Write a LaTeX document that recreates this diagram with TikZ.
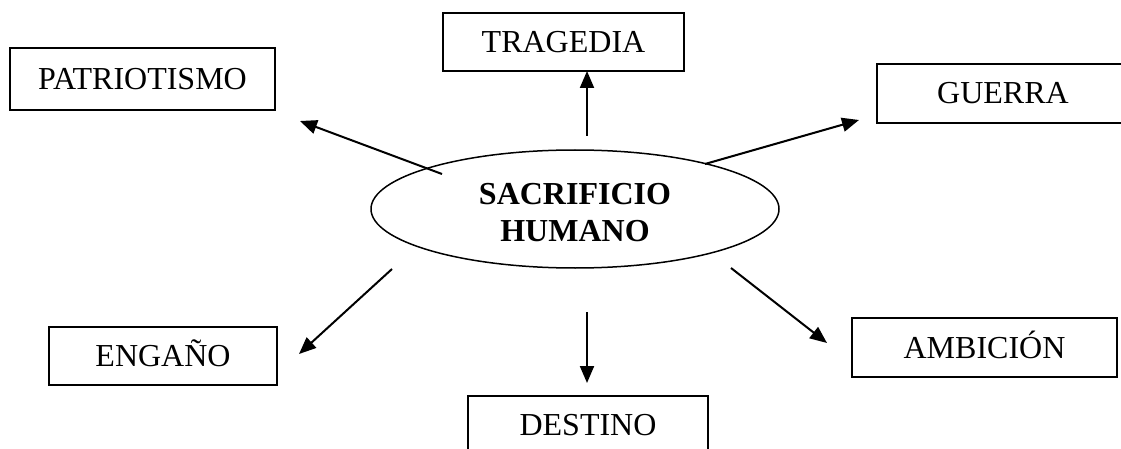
\documentclass[tikz,border=0pt]{standalone}
\usepackage{fontspec}
\setmainfont{Liberation Serif}
\usetikzlibrary{arrows.meta,shapes.geometric}
\begin{document}
\begin{tikzpicture}[x=1pt,y=-1pt,
  box/.style={draw,line width=1.8pt,inner sep=0pt,text height=21pt,text depth=0pt,font=\fontsize{32}{37}\selectfont},
  conn/.style={line width=2pt,-{Triangle[length=17pt,width=14pt]}}]
\useasboundingbox (0,0) rectangle (1121,449);
\clip (0,0) rectangle (1121,449);
\node[ellipse,draw,line width=1.5pt,minimum width=408pt,minimum height=118pt,inner sep=0pt,align=center,font=\bfseries\fontsize{32}{37}\selectfont] (c) at (575,209) {\rule{0pt}{28pt}SACRIFICIO\\HUMANO};
\node[box,minimum width=265pt,minimum height=62pt] (pat) at (142.5,79) {PATRIOTISMO};
\node[box,minimum width=241pt,minimum height=58pt] (trag) at (563.5,42) {TRAGEDIA};
\node[box,minimum width=252pt,minimum height=59pt] (guer) at (1003,93.5) {GUERRA};
\node[box,minimum width=228pt,minimum height=58pt] (eng) at (163,356) {ENGAÑO};
\node[box,minimum width=265pt,minimum height=59pt] (amb) at (984.5,347.5) {AMBICIÓN};
\node[box,minimum width=240pt,minimum height=58pt] (dest) at (588,425) {DESTINO};
\coordinate (s1) at (587,136); \coordinate (t1) at (587,71);
\coordinate (s2) at (442,174); \coordinate (t2) at (300,121);
\coordinate (s3) at (705,164); \coordinate (t3) at (859,120);
\coordinate (s4) at (392,269); \coordinate (t4) at (299,354);
\coordinate (s5) at (587,312); \coordinate (t5) at (587,383);
\coordinate (s6) at (731,268); \coordinate (t6) at (827,343);
\draw[conn] (s1) -- (t1);
\draw[conn] (s2) -- (t2);
\draw[conn] (s3) -- (t3);
\draw[conn] (s4) -- (t4);
\draw[conn] (s5) -- (t5);
\draw[conn] (s6) -- (t6);
\end{tikzpicture}
\end{document}
